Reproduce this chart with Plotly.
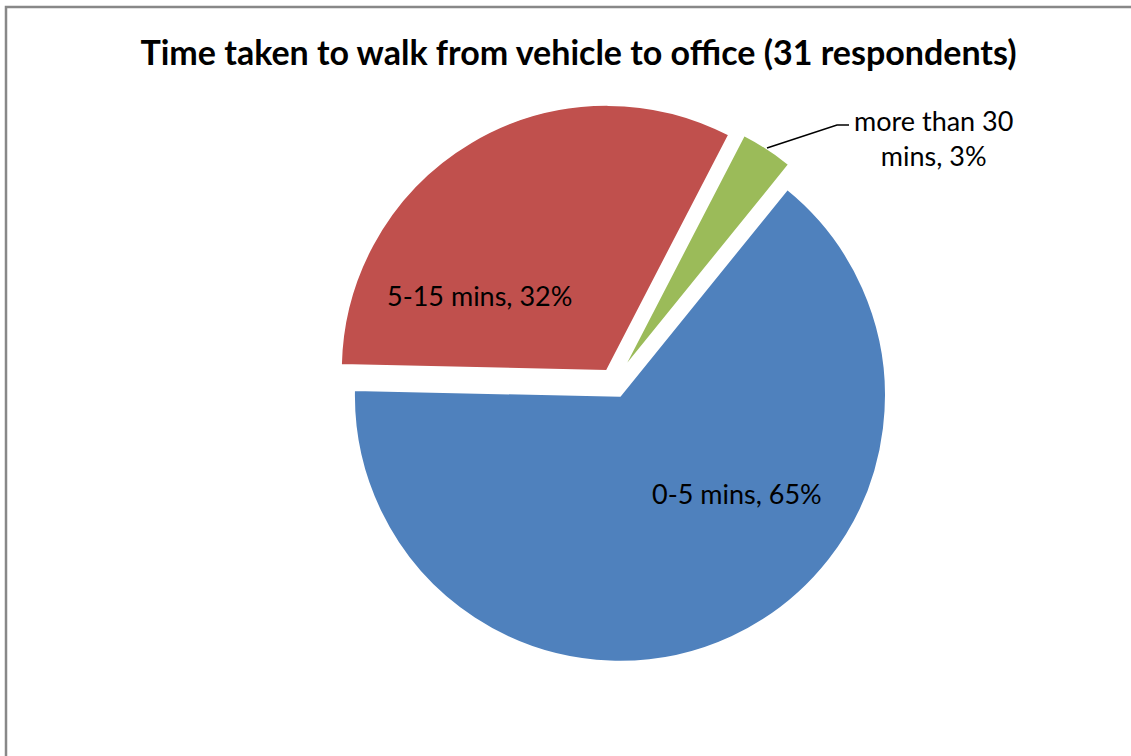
import plotly.graph_objects as go

# ---- data ----
categories = ["0-5 mins", "5-15 mins", "more than 30 mins"]
counts = [20, 10, 1]
percent_labels = [65, 32, 3]
colors = ["#4F81BD", "#C0504D", "#9BBB59"]
title_text = "Time taken to walk from vehicle to office (31 respondents)"

W, H = 1131, 756


def px(x):
    return x / W


def py(y):
    return 1 - y / H


pull = [0.053, 0.053, 0.053]
cx, cy = 614, 383
half = 266 * (1 + max(pull))

fig = go.Figure(
    go.Pie(
        labels=categories,
        values=counts,
        sort=False,
        direction="clockwise",
        rotation=39,
        pull=pull,
        marker=dict(colors=colors, line=dict(color="white", width=2)),
        textinfo="none",
        hoverinfo="label+percent",
        domain=dict(x=[px(cx - half - 40), px(cx + half + 40)],
                    y=[py(cy + half), py(cy - half)]),
        showlegend=False,
    )
)

label_font = dict(family="Lato, Carlito, sans-serif", size=27, color="black")
label_pos = [(737, 493), (479, 295), (933, 138)]
annotations = []
for i, (cat, p) in enumerate(zip(categories, percent_labels)):
    if i == 2:
        parts = cat.split(" ")
        text = " ".join(parts[:3]) + "<br>" + parts[3] + f", {p}%"
    else:
        text = f"{cat}, {p}%"
    x, y = label_pos[i]
    annotations.append(dict(x=px(x), y=py(y), xref="paper", yref="paper",
                            text=text, showarrow=False, font=label_font,
                            xanchor="center", yanchor="middle", align="center"))

shapes = [
    # leader line for small slice
    dict(type="path", xref="paper", yref="paper",
         path=f"M {px(849)},{py(125)} L {px(837)},{py(125)} L {px(767)},{py(148)}",
         line=dict(color="black", width=1.5)),
    # chart-area border (top and left visible)
    dict(type="path", xref="paper", yref="paper",
         path=f"M {px(6)},{py(760)} L {px(6)},{py(7)} L {px(1135)},{py(7)}",
         line=dict(color="#888888", width=2.5)),
]

fig.update_layout(
    width=W, height=H,
    margin=dict(l=0, r=0, t=0, b=0),
    paper_bgcolor="white",
    plot_bgcolor="white",
    title=dict(text=f"<b>{title_text}</b>", x=px(578.5), xanchor="center",
               y=py(53), yanchor="middle",
               font=dict(family="Lato, Carlito, sans-serif", size=34, color="black")),
    annotations=annotations,
    shapes=shapes,
)

fig.write_html("out.html")
